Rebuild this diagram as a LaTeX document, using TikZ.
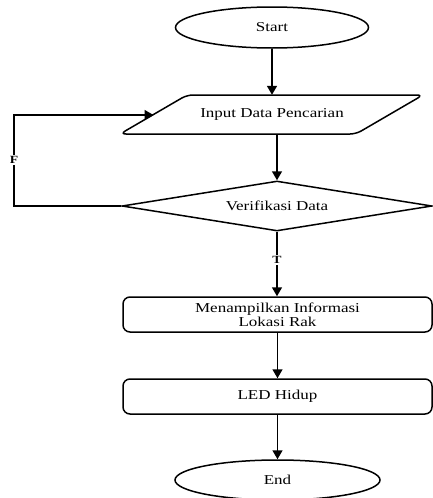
\documentclass[tikz,border=0pt]{standalone}
\usepackage{fontspec}
\setmainfont{Liberation Serif}[FakeStretch=1.25]
\usetikzlibrary{shapes.geometric,arrows.meta,calc}
\begin{document}
\begin{tikzpicture}[x=1pt,y=-1pt,
  every node/.style={font=\fontsize{13.6pt}{15pt}\selectfont},
  shp/.style={draw=black,line width=1.5pt},
  term/.style={shp,ellipse,inner sep=0pt},
  procbox/.style={shp,rectangle,rounded corners=7pt,inner sep=0pt,minimum width=309pt,minimum height=35pt,align=center},
  decis/.style={shp,diamond,inner sep=0pt,aspect=6.2,minimum width=310pt,minimum height=50pt},
  arr/.style={draw=black,line width=1.5pt,-{Triangle[width=10pt,length=9pt]}},
  lbl/.style={fill=white,inner sep=1.5pt,font=\fontsize{11pt}{12pt}\selectfont\bfseries}]
\useasboundingbox (0,0) rectangle (433,498);
% Start
\node[term,minimum width=193pt,minimum height=41pt] (start) at (272,27.5) {Start};
% Input parallelogram
\draw[shp,rounded corners=6pt] (187,95) -- (423,95) -- (356,134) -- (120,134) -- cycle;
\node[inner sep=0pt,minimum width=236pt,minimum height=39pt] (input) at (272,114.5) {Input Data Pencarian};
\coordinate (inL) at (153.5,115);
% Decision
\node[decis] (verify) at (277,206) {Verifikasi Data};
% Processes
\node[procbox] (show) at (277.5,314.5) {Menampilkan Informasi\\[-1pt]Lokasi Rak};
\node[procbox] (led) at (277.5,396.5) {LED Hidup};
% End
\node[term,minimum width=205pt,minimum height=40pt] (end) at (277.5,480) {End};
% Connectors
\draw[arr] (start) -- (input);
\draw[arr] (input.south -| verify.north) -- (verify.north);
\coordinate (fb) at (14,160);
\draw[arr] (verify.west) -| (fb) |- (inL);
\node[lbl] at (fb) {F};
\draw[arr] (verify.south) -- (show.north -| verify.south);
\node[lbl] at (277,260) {T};
\draw[arr] (show) -- (led);
\draw[arr] (led) -- (end);
\end{tikzpicture}
\end{document}
